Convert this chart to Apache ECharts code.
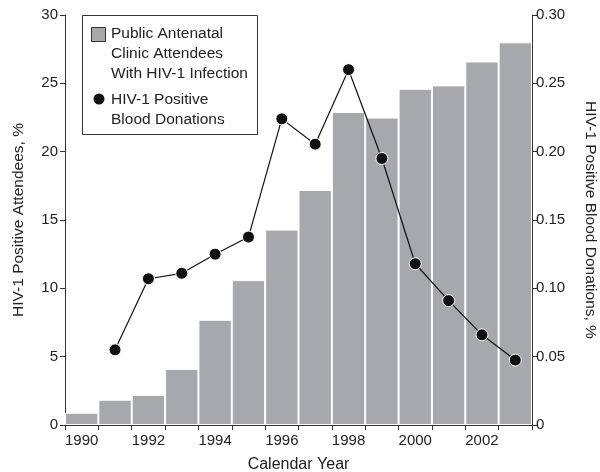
<!DOCTYPE html>
<html>
<head>
<meta charset="utf-8">
<script src="https://cdn.jsdelivr.net/npm/echarts@6/dist/echarts.min.js"></script>
<style>html,body{margin:0;padding:0;background:#fff}#c{width:600px;height:472px}</style>
</head>
<body>
<div id="c"></div>
<script>
var years = ['1990','1991','1992','1993','1994','1995','1996','1997','1998','1999','2000','2001','2002','2003'];
var attendees = [0.9, 1.85, 2.2, 4.1, 7.7, 10.6, 14.3, 17.2, 22.9, 22.5, 24.6, 24.85, 26.6, 28.0];
var donations = [null, 0.055, 0.107, 0.111, 0.125, 0.1375, 0.224, 0.2055, 0.26, 0.195, 0.118, 0.091, 0.066, 0.0475];
var leftTicks = [0, 30, 5];
var rightTicks = [0, 0.30, 0.05];
var seriesNames = ['Public Antenatal\nClinic Attendees\nWith HIV-1 Infection', 'HIV-1 Positive\nBlood Donations'];

var FONT = 'Liberation Sans, Arial, sans-serif';
var TXT = '#222';
var AX = '#333';
var chart = echarts.init(document.getElementById('c'), null, {renderer: 'canvas'});
chart.setOption({
  animation: false,
  textStyle: {fontFamily: FONT},
  grid: {left: 65, right: 68, top: 15, bottom: 47, containLabel: false, outerBoundsMode: 'none'},
  xAxis: {
    type: 'category',
    data: years,
    boundaryGap: true,
    name: 'Calendar Year',
    nameLocation: 'middle',
    nameGap: 32,
    nameTextStyle: {fontSize: 16, color: TXT, fontFamily: FONT},
    axisLine: {lineStyle: {color: AX, width: 1}},
    axisTick: {show: true, interval: 0, length: 5, lineStyle: {color: AX}},
    axisLabel: {interval: 1, fontSize: 15, color: TXT, margin: 8, fontFamily: FONT},
    splitLine: {show: false}
  },
  yAxis: [{
    type: 'value',
    min: leftTicks[0], max: leftTicks[1], interval: leftTicks[2],
    name: 'HIV-1 Positive Attendees, %',
    nameLocation: 'middle',
    nameGap: 38,
    nameTextStyle: {fontSize: 15.5, color: TXT, fontFamily: FONT},
    axisLine: {show: true, lineStyle: {color: AX, width: 1}},
    axisTick: {show: true, length: 5, lineStyle: {color: AX}},
    axisLabel: {fontSize: 15, color: TXT, margin: 7, fontFamily: FONT},
    splitLine: {show: false}
  }, {
    type: 'value',
    position: 'right',
    min: rightTicks[0], max: rightTicks[1], interval: rightTicks[2],
    name: 'HIV-1 Positive Blood Donations, %',
    nameLocation: 'middle',
    nameRotate: -90,
    nameGap: 50,
    nameTextStyle: {fontSize: 15.5, color: TXT, fontFamily: FONT},
    axisLine: {show: true, lineStyle: {color: AX, width: 1}},
    axisTick: {show: true, length: 5, lineStyle: {color: AX}},
    axisLabel: {fontSize: 15, color: TXT, margin: 4, fontFamily: FONT,
      formatter: function (v) { return v === 0 ? '0' : v.toFixed(2); }},
    splitLine: {show: false}
  }],
  series: [{
    name: seriesNames[0],
    type: 'bar',
    data: attendees,
    barCategoryGap: 0,
    barWidth: '100%',
    itemStyle: {color: '#a7a8ab', borderColor: '#fff', borderWidth: 1},
    z: 1
  }, {
    name: seriesNames[1],
    type: 'line',
    yAxisIndex: 1,
    data: donations,
    connectNulls: false,
    symbol: 'circle',
    symbolSize: 12,
    lineStyle: {color: '#111', width: 1.2},
    itemStyle: {color: '#111', borderColor: '#fff', borderWidth: 1},
    z: 3
  }],
  graphic: [
    {type: 'rect', shape: {x: 82.5, y: 15.5, width: 175, height: 119}, style: {fill: '#fff', stroke: '#333', lineWidth: 1}, z: 10},
    {type: 'rect', shape: {x: 91.5, y: 27.5, width: 14, height: 14}, style: {fill: '#a7a8ab', stroke: '#333', lineWidth: 1}, z: 11},
    {type: 'text', x: 111, y: 24, style: {text: 'Public Antenatal\nClinic Attendees\nWith HIV-1 Infection', font: '15.5px ' + FONT, fill: TXT, lineHeight: 20}, z: 11},
    {type: 'circle', shape: {cx: 99, cy: 99, r: 5.5}, style: {fill: '#111'}, z: 11},
    {type: 'text', x: 111, y: 90, style: {text: 'HIV-1 Positive\nBlood Donations', font: '15.5px ' + FONT, fill: TXT, lineHeight: 20}, z: 11}
  ]
});
</script>
</body>
</html>
